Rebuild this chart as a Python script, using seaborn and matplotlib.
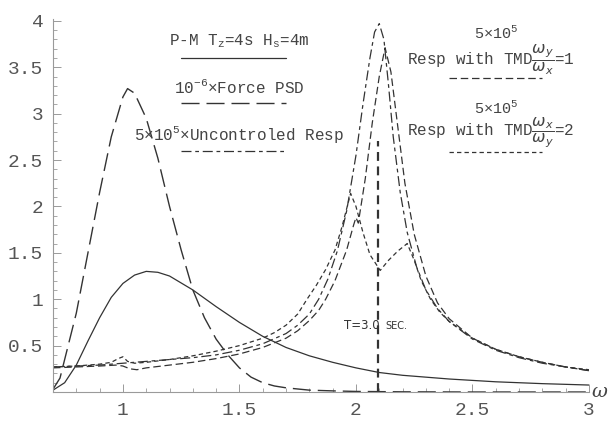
import numpy as np
import pandas as pd
import matplotlib.pyplot as plt
import seaborn as sns

# P-M wave spectrum (solid)
pm_w = [0.70, 0.75, 0.80, 0.85, 0.90, 0.95, 1.00, 1.05, 1.10, 1.15, 1.20, 1.30, 1.40,
        1.50, 1.60, 1.70, 1.80, 1.90, 2.00, 2.10, 2.20, 2.40, 2.60, 2.80, 3.00]
pm_s = [0.02, 0.10, 0.29, 0.55, 0.80, 1.02, 1.17, 1.26, 1.30, 1.29, 1.25, 1.10, 0.92,
        0.75, 0.60, 0.48, 0.39, 0.32, 0.26, 0.21, 0.18, 0.14, 0.11, 0.09, 0.075]

# 1e-6 x force PSD (long dash)
f_w = [0.70, 0.73, 0.76, 0.80, 0.85, 0.90, 0.95, 1.00, 1.02, 1.05, 1.10, 1.15, 1.20,
       1.25, 1.30, 1.35, 1.40, 1.45, 1.50, 1.55, 1.60, 1.65, 1.70, 1.80, 1.90, 2.00,
       2.20, 2.50, 3.00]
f_s = [0.03, 0.15, 0.45, 0.85, 1.50, 2.15, 2.75, 3.18, 3.27, 3.22, 2.95, 2.52, 2.00,
       1.53, 1.10, 0.80, 0.57, 0.40, 0.26, 0.16, 0.10, 0.065, 0.045, 0.02, 0.012,
       0.006, 0.002, 0.0, 0.0]

# 5e5 x uncontrolled response
u_w = [0.70, 0.80, 0.90, 1.00, 1.10, 1.20, 1.30, 1.40, 1.50, 1.60, 1.70, 1.75, 1.80,
       1.84, 1.88, 1.92, 1.96, 2.00, 2.03, 2.06, 2.08, 2.10, 2.12, 2.14, 2.16, 2.19,
       2.22, 2.26, 2.30, 2.35, 2.40, 2.50, 2.60, 2.70, 2.80, 2.90, 3.00]
u_s = [0.27, 0.28, 0.29, 0.31, 0.33, 0.35, 0.37, 0.40, 0.45, 0.52, 0.63, 0.72, 0.84,
       1.00, 1.22, 1.52, 1.95, 2.55, 3.10, 3.60, 3.88, 3.97, 3.80, 3.30, 2.75, 2.15,
       1.72, 1.35, 1.10, 0.90, 0.76, 0.57, 0.45, 0.37, 0.31, 0.27, 0.23]

# 5e5 x response with TMD, wy/wx = 1
t1_w = [0.70, 0.80, 0.90, 0.97, 1.00, 1.03, 1.06, 1.10, 1.20, 1.30, 1.40, 1.50, 1.60,
        1.70, 1.75, 1.80, 1.84, 1.87, 1.91, 1.96, 1.99, 2.00, 2.01, 2.04, 2.07, 2.10,
        2.125, 2.15, 2.18, 2.21, 2.25, 2.30, 2.35, 2.40, 2.50, 2.60, 2.70, 2.80, 2.90, 3.00]
t1_s = [0.26, 0.27, 0.28, 0.29, 0.28, 0.25, 0.24, 0.26, 0.29, 0.32, 0.36, 0.41, 0.48,
        0.58, 0.66, 0.77, 0.88, 1.00, 1.20, 1.53, 1.80, 1.88, 1.82, 2.30, 2.90, 3.40,
        3.71, 3.45, 2.85, 2.25, 1.70, 1.25, 0.96, 0.79, 0.58, 0.46, 0.38, 0.32, 0.27, 0.23]

# 5e5 x response with TMD, wx/wy = 2
t2_w = [0.70, 0.80, 0.90, 0.95, 0.98, 1.00, 1.02, 1.05, 1.10, 1.20, 1.30, 1.40, 1.50,
        1.60, 1.65, 1.70, 1.75, 1.79, 1.83, 1.87, 1.91, 1.94, 1.977, 2.00, 2.03, 2.06,
        2.104, 2.14, 2.18, 2.22, 2.25, 2.28, 2.32, 2.36, 2.40, 2.50, 2.60, 2.70, 2.80,
        2.90, 3.00]
t2_s = [0.27, 0.28, 0.30, 0.32, 0.36, 0.38, 0.33, 0.31, 0.32, 0.35, 0.39, 0.44, 0.50,
        0.58, 0.64, 0.72, 0.84, 1.00, 1.15, 1.32, 1.53, 1.78, 2.14, 2.00, 1.72, 1.48,
        1.31, 1.42, 1.52, 1.60, 1.42, 1.20, 1.00, 0.86, 0.76, 0.58, 0.46, 0.38, 0.32,
        0.27, 0.24]

T_period = 3.0       # sec
T_line_top = 2.7

x_ticks = [1, 1.5, 2, 2.5, 3]
y_ticks = [0.5, 1, 1.5, 2, 2.5, 3, 3.5, 4]

sns.set_style("ticks")
plt.rcParams['font.family'] = ['Liberation Mono', 'DejaVu Sans']
plt.rcParams['mathtext.fontset'] = 'dejavusans'

ink = '#333333'
txt = '#444444'
axc = '#9a9a9a'

fig = plt.figure(figsize=(6.14, 4.21), dpi=100)
ax = fig.add_axes([53 / 614, 29 / 421, 536 / 614, 373 / 421])

styles = {
    'pm': dict(linestyle='-', lw=0.9),
    'force': dict(linestyle=(0, (13, 5)), lw=1.0),
    'unc': dict(linestyle=(0, (8, 3, 3, 3)), lw=0.9),
    'tmd1': dict(linestyle=(0, (6, 3)), lw=0.9),
    'tmd2': dict(linestyle=(0, (3.5, 2.5)), lw=0.9),
}
series = {
    'pm': (pm_w, pm_s), 'force': (f_w, f_s), 'unc': (u_w, u_s),
    'tmd1': (t1_w, t1_s), 'tmd2': (t2_w, t2_s),
}
for key, (w, s) in series.items():
    df = pd.DataFrame({'w': w, 's': s})
    sns.lineplot(data=df, x='w', y='s', ax=ax, color=ink, estimator=None,
                 sort=False, **styles[key])

# T = 3.0 sec marker
w_T = 2 * np.pi / T_period
ax.vlines(w_T, 0, T_line_top, colors=ink, linestyles=(0, (4, 2.5)), lw=1.6)
ax.text(w_T + 0.025, 0.72, 'T=3.0 ', family='DejaVu Sans', fontsize=8.5, color=ink,
        ha='right', va='center')
ax.text(w_T + 0.03, 0.71, 'SEC.', family='DejaVu Sans', fontsize=7, color=ink,
        ha='left', va='center')

# left legend block
lx0, lx1 = 1.25, 1.70
ax.text(1.5, 3.78, 'P-M T$_\\mathregular{z}$=4s H$_\\mathregular{s}$=4m', fontsize=11.5,
        color=txt, ha='center', va='center')
ax.plot([lx0, lx1], [3.60, 3.60], color=ink, **styles['pm'])
ax.text(1.5, 3.29, '10$^{\\mathregular{-6}}$\u00d7Force PSD', fontsize=11.5,
        color=txt, ha='center', va='center')
ax.plot([lx0, lx1], [3.11, 3.11], color=ink, **styles['force'])
ax.text(1.5, 2.78, '5\u00d710$^{\\mathregular{5}}$\u00d7Uncontroled Resp', fontsize=11.5,
        color=txt, ha='center', va='center')
ax.plot([lx0, lx1], [2.60, 2.60], color=ink, **styles['unc'])

# right legend block
rx0, rx1 = 2.40, 2.80
ax.text(2.60, 3.86, '5\u00d710$^{\\mathregular{5}}$', fontsize=11, color=txt,
        ha='center', va='center')
ax.text(2.22, 3.58, 'Resp with TMD$\\dfrac{\\omega_y}{\\omega_x}$=1', fontsize=11.5,
        color=txt, ha='left', va='center')
ax.plot([rx0, rx1], [3.38, 3.38], color=ink, **styles['tmd1'])
ax.text(2.60, 3.06, '5\u00d710$^{\\mathregular{5}}$', fontsize=11, color=txt,
        ha='center', va='center')
ax.text(2.22, 2.79, 'Resp with TMD$\\dfrac{\\omega_x}{\\omega_y}$=2', fontsize=11.5,
        color=txt, ha='left', va='center')
ax.plot([rx0, rx1], [2.59, 2.59], color=ink, **styles['tmd2'])

ax.set_xlim(0.7, 3.0)
ax.set_ylim(0, 4.02)
ax.set_xlabel('')
ax.set_ylabel('')
ax.set_xticks(x_ticks)
ax.set_xticklabels([f'{t:g}' for t in x_ticks])
ax.set_yticks(y_ticks)
ax.set_yticklabels([f'{t:g}' for t in y_ticks])
ax.set_xticks(np.arange(0.8, 3.01, 0.1), minor=True)
ax.set_yticks(np.arange(0.1, 4.01, 0.1), minor=True)
ax.tick_params(which='major', direction='in', length=6, width=0.7, color=axc,
               labelsize=14, labelcolor='#555555', pad=7)
ax.tick_params(which='minor', direction='in', length=3, width=0.6, color=axc)
for side in ['top', 'right']:
    ax.spines[side].set_visible(False)
for side in ['left', 'bottom']:
    ax.spines[side].set_color(axc)
    ax.spines[side].set_linewidth(0.8)
ax.patch.set_alpha(0)

ax.annotate('\u03c9', xy=(1.0, 0), xycoords='axes fraction', xytext=(1.5, 0),
            textcoords='offset points', fontsize=14, color=txt, style='italic',
            ha='left', va='center', family='DejaVu Serif')

fig.savefig('out.png', dpi=100)
